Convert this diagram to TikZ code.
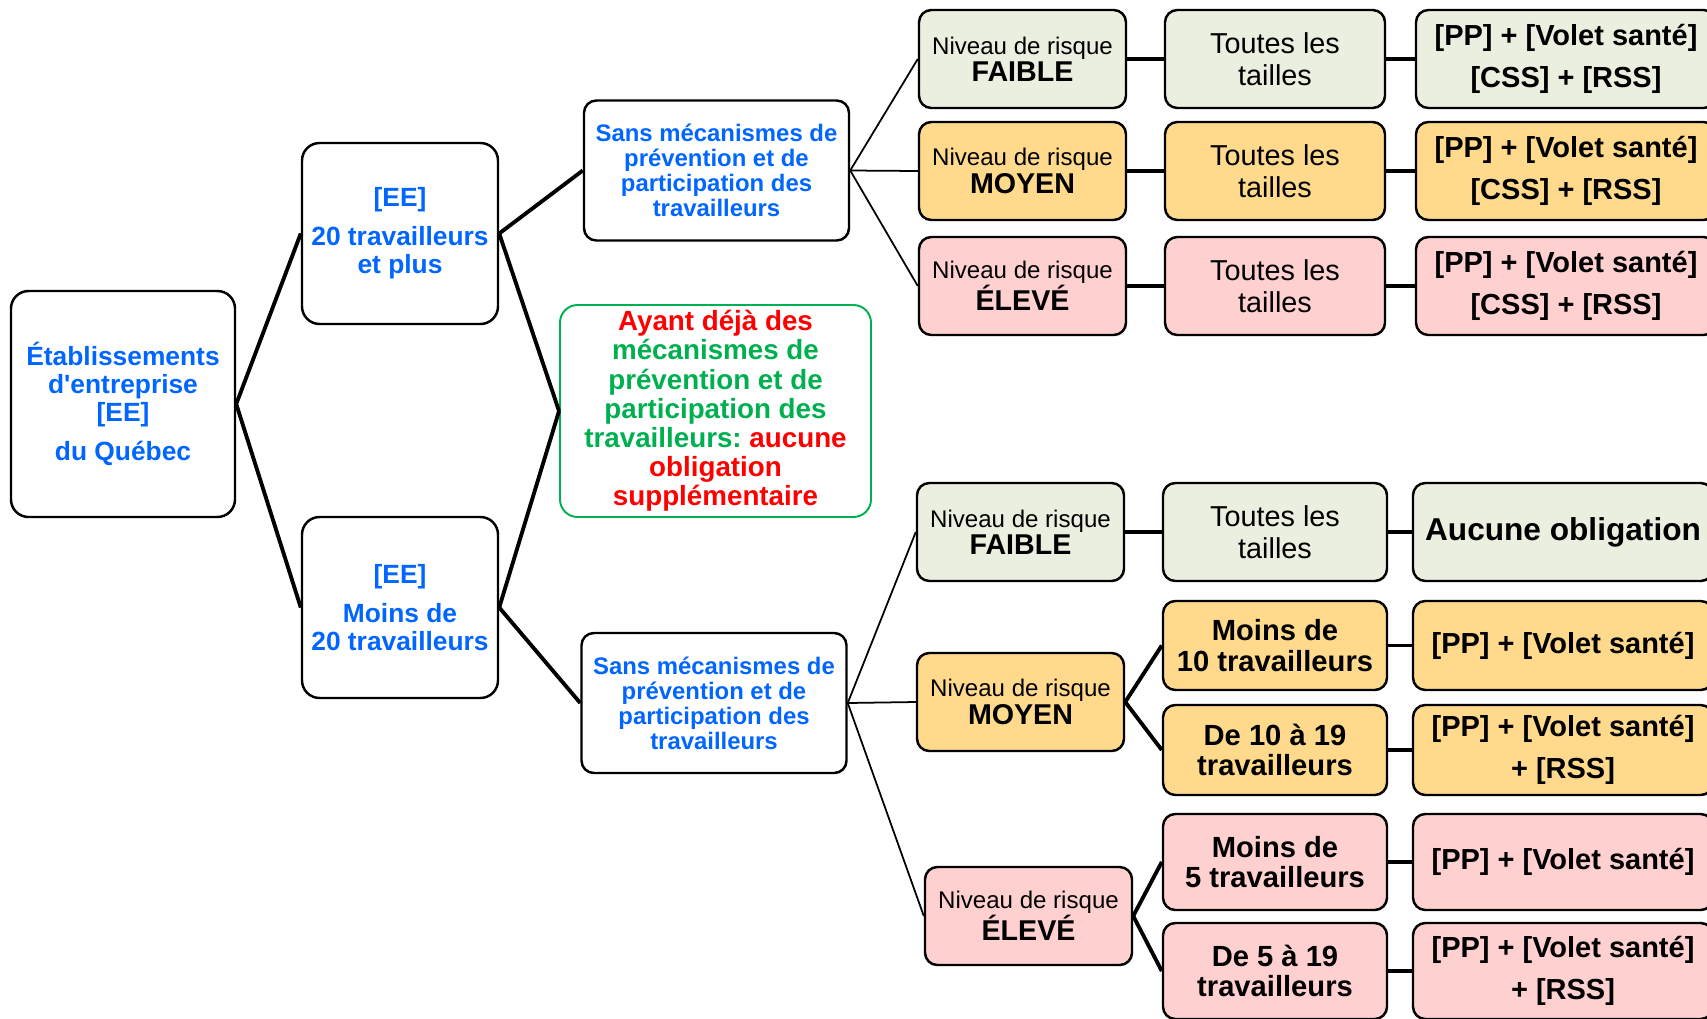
\documentclass[tikz,border=0pt]{standalone}
\usepackage{fontspec}
\setmainfont{Liberation Sans}
\usetikzlibrary{positioning}
\definecolor{qcblue}{HTML}{0066FF}
\definecolor{qcgreen}{HTML}{00B050}
\definecolor{qcred}{HTML}{FF0000}
\definecolor{rfaible}{HTML}{EBEFDF}
\definecolor{rmoyen}{HTML}{FFD98C}
\definecolor{releve}{HTML}{FFD0D0}
\newdimen\pxu \pxu=0.02cm
\frenchspacing
\tikzset{
  x=0.02cm, y=-0.02cm,
  box/.style={rectangle, rounded corners=7pt, draw=black, line width=1.4pt,
              align=center, inner sep=2pt},
  boxq/.style={box, fill=white, text=qcblue, rounded corners=10pt,
               font=\fontsize{15}{16}\selectfont\bfseries},
  boxs/.style={box, fill=white, text=qcblue, minimum width=265\pxu, minimum height=140\pxu,
               font=\fontsize{13.6}{14.2}\selectfont\bfseries},
  niv/.style={box, minimum width=207\pxu, minimum height=98\pxu,
              font=\fontsize{13.7}{15.5}\selectfont},
  tail/.style={box, minimum width=220\pxu, minimum height=98\pxu,
               font=\fontsize{16.4}{18}\selectfont},
  taille/.style={box, minimum width=224\pxu, font=\fontsize{16.6}{17.4}\selectfont\bfseries},
  oblig/.style={box, minimum width=300\pxu, font=\fontsize{16.5}{23.5}\selectfont\bfseries},
  link/.style={line width=2.2pt, draw=black},
  linkt/.style={line width=1pt, draw=black},
}
\newcommand{\lvl}[1]{\\{\fontsize{16.3}{15.5}\selectfont\bfseries #1}}
\begin{document}
\begin{tikzpicture}
  \useasboundingbox (0,0) rectangle (1707,1018);
  \begin{scope}
  \clip (0,0) rectangle (1707,1018);
  % arbre de gauche
  \node[boxq, minimum width=224\pxu, minimum height=226\pxu] (etab) at (123,404)
    {\'Etablissements\\d\textquotesingle entreprise\\{[EE]}\\[6pt]du Qu\'ebec};
  \node[boxq, minimum width=196\pxu, minimum height=181\pxu] (ee20) at (400,233.5)
    {[EE]\\[6pt]20 travailleurs\\et plus};
  \node[boxq, minimum width=196\pxu, minimum height=181\pxu] (eemoins) at (400,607.5)
    {[EE]\\[6pt]Moins de\\20 travailleurs};
  \node[boxs] (sansA) at (716.5,170.5)
    {Sans m\'ecanismes de\\pr\'evention et de\\participation des\\travailleurs};
  \node[boxs] (sansB) at (714,703)
    {Sans m\'ecanismes de\\pr\'evention et de\\participation des\\travailleurs};
  \node[box, draw=qcgreen, line width=1.1pt, rounded corners=10pt, minimum width=311\pxu,
        minimum height=212\pxu, text=qcgreen, font=\fontsize{15.8}{16.6}\selectfont\bfseries] (ayant) at (715.5,411)
    {\textcolor{qcred}{Ayant d\'ej\`a des}\\m\'ecanismes de\\pr\'evention et de\\participation des\\travailleurs: \textcolor{qcred}{aucune}\\\textcolor{qcred}{obligation}\\\textcolor{qcred}{suppl\'ementaire}};

  % 20 travailleurs et plus
  \node[niv, fill=rfaible] (nivAf) at (1022.5,59) {Niveau de risque\lvl{FAIBLE}};
  \node[niv, fill=rmoyen] (nivAm) at (1022.5,171) {Niveau de risque\lvl{MOYEN}};
  \node[niv, fill=releve] (nivAe) at (1022.5,286) {Niveau de risque\lvl{\'ELEV\'E}};
  \node[tail, fill=rfaible] (tailAf) at (1275,59) {Toutes les\\tailles};
  \node[tail, fill=rmoyen] (tailAm) at (1275,171) {Toutes les\\tailles};
  \node[tail, fill=releve] (tailAe) at (1275,286) {Toutes les\\tailles};
  \node[oblig, fill=rfaible, minimum height=98\pxu] (obAf) at (1566,59) {[PP] + [Volet sant\'e]\\{[CSS] + [RSS]}};
  \node[oblig, fill=rmoyen, minimum height=98\pxu] (obAm) at (1566,171) {[PP] + [Volet sant\'e]\\{[CSS] + [RSS]}};
  \node[oblig, fill=releve, minimum height=98\pxu] (obAe) at (1566,286) {[PP] + [Volet sant\'e]\\{[CSS] + [RSS]}};

  % moins de 20 travailleurs
  \node[niv, fill=rfaible] (nivBf) at (1020.5,532) {Niveau de risque\lvl{FAIBLE}};
  \node[tail, fill=rfaible, minimum width=224\pxu] (tailBf) at (1275,532) {Toutes les\\tailles};
  \node[oblig, fill=rfaible, minimum height=98\pxu, font=\fontsize{18}{20}\selectfont\bfseries] (obBf) at (1563,532) {Aucune obligation};
  \node[niv, fill=rmoyen] (nivBm) at (1020.5,702) {Niveau de risque\lvl{MOYEN}};
  \node[taille, fill=rmoyen, minimum height=89\pxu] (tailBm1) at (1275,645.5) {Moins de\\10 travailleurs};
  \node[taille, fill=rmoyen, minimum height=90\pxu] (tailBm2) at (1275,750) {De 10 \`a 19\\travailleurs};
  \node[oblig, fill=rmoyen, minimum height=89\pxu] (obBm1) at (1563,645.5) {[PP] + [Volet sant\'e]};
  \node[oblig, fill=rmoyen, minimum height=90\pxu] (obBm2) at (1563,750) {[PP] + [Volet sant\'e]\\+ [RSS]};
  \node[niv, fill=releve] (nivBe) at (1028.5,916) {Niveau de risque\lvl{\'ELEV\'E}};
  \node[taille, fill=releve, minimum height=96\pxu] (tailBe1) at (1275,862) {Moins de\\5 travailleurs};
  \node[taille, fill=releve, minimum height=96\pxu] (tailBe2) at (1275,971) {De 5 \`a 19\\travailleurs};
  \node[oblig, fill=releve, minimum height=96\pxu] (obBe1) at (1563,862) {[PP] + [Volet sant\'e]};
  \node[oblig, fill=releve, minimum height=96\pxu] (obBe2) at (1563,971) {[PP] + [Volet sant\'e]\\+ [RSS]};

  % liens
  \draw[link] (etab.east) -- (ee20.west);
  \draw[link] (etab.east) -- (eemoins.west);
  \draw[link] (ee20.east) -- (sansA.west);
  \draw[link] (ee20.east) -- (ayant.west);
  \draw[link] (eemoins.east) -- (ayant.west);
  \draw[link] (eemoins.east) -- (sansB.west);
  \draw[linkt] (sansA.east) -- (nivAf.west);
  \draw[linkt] (sansA.east) -- (nivAm.west);
  \draw[linkt] (sansA.east) -- (nivAe.west);
  \draw[linkt] (sansB.east) -- (nivBf.west);
  \draw[linkt] (sansB.east) -- (nivBm.west);
  \draw[linkt] (sansB.east) -- (nivBe.west);
  \draw[link] (nivAf) -- (tailAf);
  \draw[link] (tailAf) -- (obAf);
  \draw[link] (nivAm) -- (tailAm);
  \draw[link] (tailAm) -- (obAm);
  \draw[link] (nivAe) -- (tailAe);
  \draw[link] (tailAe) -- (obAe);
  \draw[link] (nivBf) -- (tailBf);
  \draw[link] (tailBf) -- (obBf);
  \draw[link] (nivBm.east) -- (tailBm1.west);
  \draw[link] (nivBm.east) -- (tailBm2.west);
  \draw[link] (tailBm1) -- (obBm1);
  \draw[link] (tailBm2) -- (obBm2);
  \draw[link] (nivBe.east) -- (tailBe1.west);
  \draw[link] (nivBe.east) -- (tailBe2.west);
  \draw[link] (tailBe1) -- (obBe1);
  \draw[link] (tailBe2) -- (obBe2);
  \end{scope}
\end{tikzpicture}
\end{document}
